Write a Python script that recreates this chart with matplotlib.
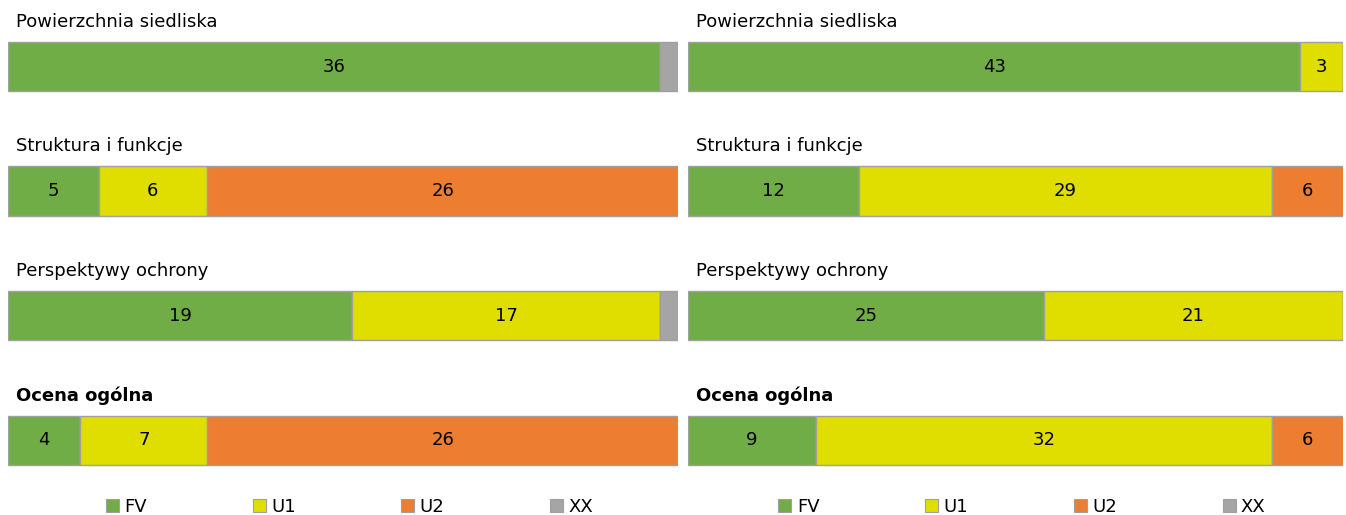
import matplotlib.pyplot as plt
from matplotlib.patches import Patch
from matplotlib.transforms import blended_transform_factory

# dane
rows = ['Powierzchnia siedliska', 'Struktura i funkcje', 'Perspektywy ochrony', 'Ocena ogólna']
categories = ['FV', 'U1', 'U2', 'XX']
colors = ['#70ad47', '#e0dd00', '#ed7d31', '#a5a5a5']

left_fv = [36, 5, 19, 4]
left_u1 = [0, 6, 17, 7]
left_u2 = [0, 26, 0, 26]
left_xx = [1, 0, 1, 0]

right_fv = [43, 12, 25, 9]
right_u1 = [3, 29, 21, 32]
right_u2 = [0, 6, 0, 6]
right_xx = [0, 0, 0, 0]

left_max = 37
right_max = 46

plt.rcParams['font.family'] = ['DejaVu Sans']

W, H = 1346, 515
fig = plt.figure(figsize=(W / 100, H / 100), dpi=100)


def draw_panel(x0, x1, series, xmax):
    # osie w pikselach
    ax = fig.add_axes([x0 / W, 1 - 502.5 / H, (x1 - x0) / W, (502.5 - 4.25) / H])
    ax.set_xlim(0, xmax)
    ax.set_ylim(3.5, -0.5)
    ax.axis('off')
    lefts = [0] * len(rows)
    for k, (vals, c) in enumerate(zip(series, colors)):
        ax.barh(range(len(rows)), vals, left=lefts, height=0.395, color=c,
                edgecolor='#a0a0a0', linewidth=1.0)
        for i, v in enumerate(vals):
            if v > 0 and categories[k] != 'XX':
                end = min(lefts[i] + v, xmax)
                ax.text((lefts[i] + end) / 2, i, str(v), ha='center', va='center',
                        fontsize=13, color='black')
        lefts = [a + b for a, b in zip(lefts, vals)]
    tr = blended_transform_factory(ax.transAxes, ax.transData)
    for i, name in enumerate(rows):
        ax.text(8 / (x1 - x0), i - 0.36, name, transform=tr, ha='left', va='center',
                fontsize=13, fontweight='bold' if i == 3 else 'normal')
    handles = [Patch(facecolor=c, edgecolor='#a0a0a0', linewidth=0.8) for c in colors]
    ax.legend(handles, categories, ncol=4, loc='center',
              bbox_to_anchor=(0.51, (502.5 - 507) / (502.5 - 4.25)),
              frameon=False, fontsize=13, handlelength=0.72, handleheight=0.72,
              handletextpad=0.3, columnspacing=5.85)
    return ax


draw_panel(8, 678, [left_fv, left_u1, left_u2, left_xx], left_max)
draw_panel(688, 1343, [right_fv, right_u1, right_u2, right_xx], right_max)

plt.savefig('out.png', dpi=100)
